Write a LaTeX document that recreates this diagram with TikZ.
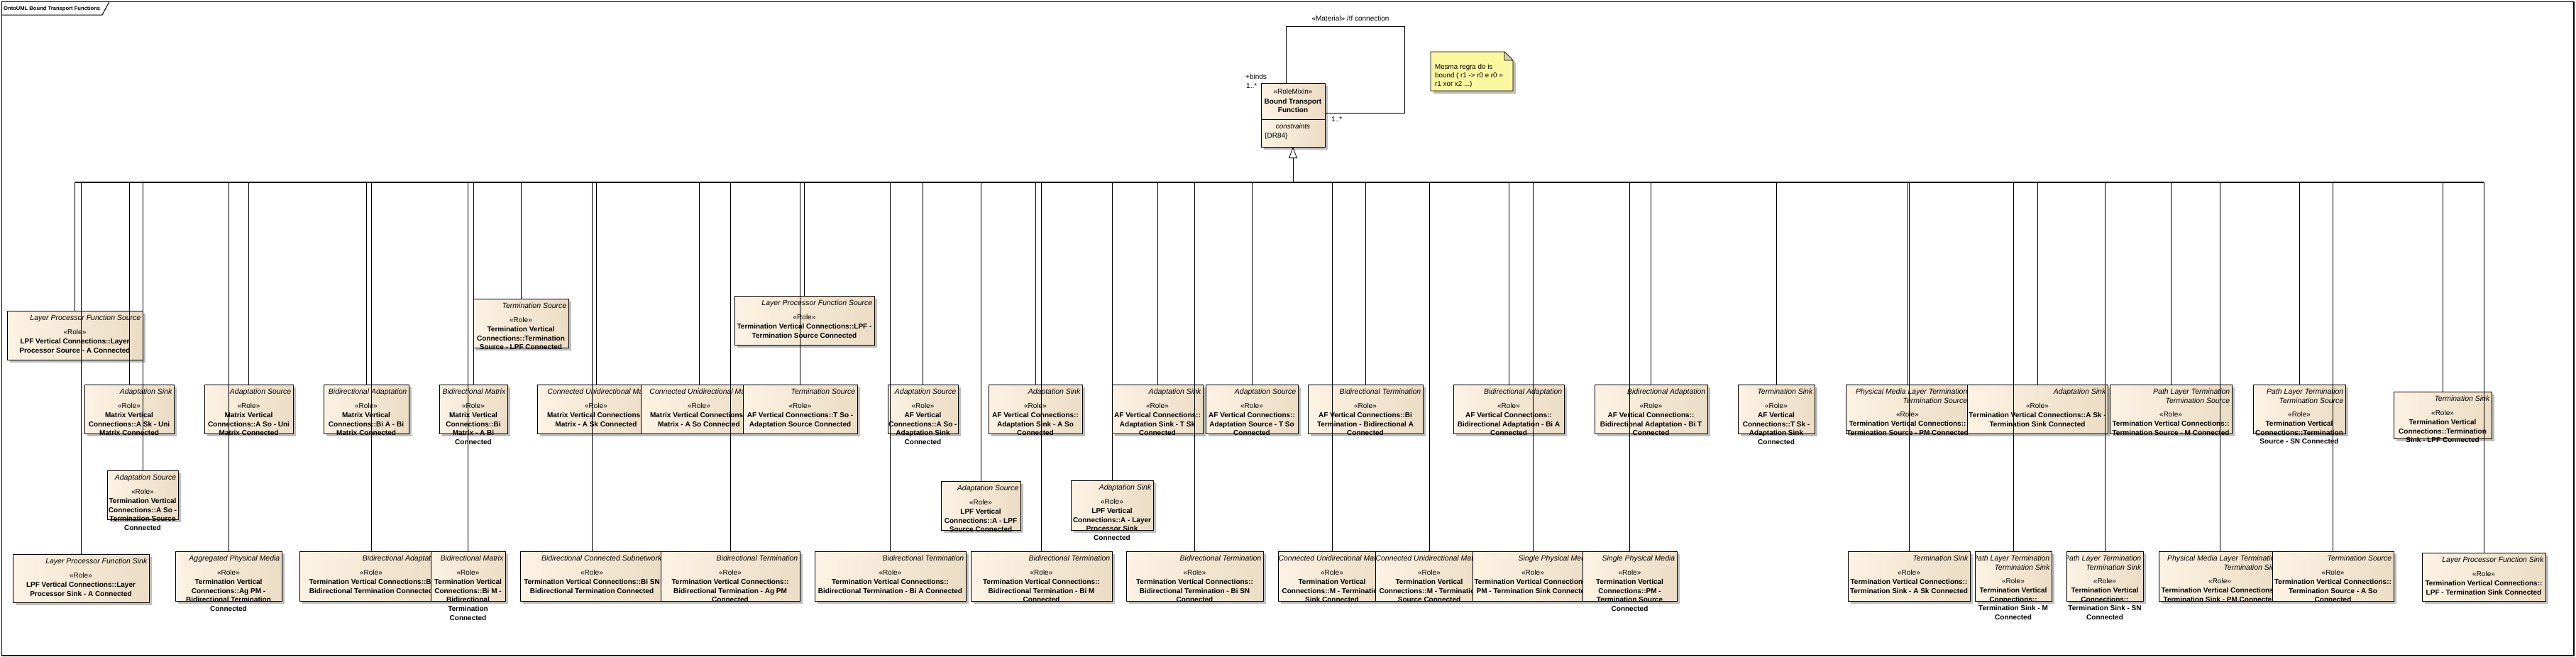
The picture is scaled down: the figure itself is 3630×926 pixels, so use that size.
\documentclass[tikz,border=0pt]{standalone}
\usepackage{fontspec}
\setmainfont{Liberation Sans}
\usepackage{array}
\usetikzlibrary{arrows.meta}
\definecolor{boxL}{RGB}{253,243,228}
\definecolor{boxR}{RGB}{235,220,196}
\definecolor{shadowc}{RGB}{190,190,190}
\definecolor{notefill}{RGB}{250,247,160}
\definecolor{notefold}{RGB}{214,210,170}
\tikzset{
 rbox/.style={draw=black, line width=0.9pt, left color=boxL, right color=boxR, inner sep=0pt, outer sep=0pt},
 shd/.style={fill=shadowc},
 ttl/.style={inner sep=0pt, font=\fontsize{10.5}{13}\selectfont\itshape},
 bdy/.style={inner sep=0pt, font=\fontsize{10}{12.8}\selectfont},
 conn/.style={line width=0.8pt},
 busline/.style={line width=1.4pt},
 lbl/.style={inner sep=0pt, font=\fontsize{10}{12.8}\selectfont},
}
% #1 name, #2 x1, #3 y1, #4 x2, #5 y2, #6 title lines, #7 offset of <<Role>> baseline, #8 body lines
\newcommand\RoleBox[8]{%
  \fill[shd] (#2+4,#3+4) rectangle (#4+4,#5+4);
  \node[rbox, minimum width=#4-#2, minimum height=#5-#3, anchor=north west] (#1) at (#2,#3) {};
  \begin{scope}
    \clip (#2,#3) rectangle (#4,#5+70);
    \node[ttl, anchor=base east] (#1t) at (#4-2.5,#3+13.5) {\begin{tabular}[t]{@{}r@{}}#6\end{tabular}};
    \node[bdy, anchor=base] (#1b) at ({(#2+#4)/2},#3+#7) {\begin{tabular}[t]{@{}>{\bfseries}c@{}}\mdseries «Role»\\#8\end{tabular}};
  \end{scope}}
\begin{document}
\begin{tikzpicture}[x=1pt,y=-1pt]
\useasboundingbox (0,0) rectangle (3630,926);
% frame
\draw[line width=1.2pt] (2.5,2.5) rectangle (3627,924);
\draw[line width=1pt] (2.5,21) -- (144,21) -- (154,2.5);
\node[anchor=base west, inner sep=0pt, font=\fontsize{7.6}{9}\selectfont\bfseries] (frametitle) at (5,14) {OntoUML Bound Transport Functions};

% row A
\RoleBox{b1}{10}{438}{201}{507}{Layer Processor Function Source}{33.5}{LPF Vertical Connections::Layer\\Processor Source - A Connected}
\RoleBox{b2}{667}{421}{801}{490}{Termination Source}{33.5}{Termination Vertical\\Connections::Termination\\Source - LPF Connected}
\RoleBox{b3}{1035}{417}{1232}{486}{Layer Processor Function Source}{33.5}{Termination Vertical Connections::LPF -\\Termination Source Connected}
% row B
\RoleBox{b4}{119}{542}{245}{611}{Adaptation Sink}{33.5}{Matrix Vertical\\Connections::A Sk - Uni\\Matrix Connected}
\RoleBox{b5}{288}{542}{413}{611}{Adaptation Source}{33.5}{Matrix Vertical\\Connections::A So - Uni\\Matrix Connected}
\RoleBox{b6}{456}{542}{576}{611}{Bidirectional Adaptation}{33.5}{Matrix Vertical\\Connections::Bi A - Bi\\Matrix Connected}
\RoleBox{b7}{619}{542}{715}{611}{Bidirectional Matrix}{33.5}{Matrix Vertical\\Connections::Bi\\Matrix - A Bi\\Connected}
\RoleBox{b8}{757}{542}{923}{611}{Connected Unidirectional Matrix}{33.5}{Matrix Vertical Connections::\\Matrix - A Sk Connected}
\RoleBox{b9}{903}{542}{1067}{611}{Connected Unidirectional Matrix}{33.5}{Matrix Vertical Connections::\\Matrix - A So Connected}
\RoleBox{b10}{1047}{542}{1208}{611}{Termination Source}{33.5}{AF Vertical Connections::T So -\\Adaptation Source Connected}
\RoleBox{b11}{1251}{542}{1350}{611}{Adaptation Source}{33.5}{AF Vertical\\Connections::A So -\\Adaptation Sink\\Connected}
\RoleBox{b12}{1393}{542}{1525}{611}{Adaptation Sink}{33.5}{AF Vertical Connections::\\Adaptation Sink - A So\\Connected}
\RoleBox{b13}{1567}{542}{1695}{611}{Adaptation Sink}{33.5}{AF Vertical Connections::\\Adaptation Sink - T Sk\\Connected}
\RoleBox{b14}{1699}{542}{1829}{611}{Adaptation Source}{33.5}{AF Vertical Connections::\\Adaptation Source - T So\\Connected}
\RoleBox{b15}{1843}{542}{2005}{611}{Bidirectional Termination}{33.5}{AF Vertical Connections::Bi\\Termination - Bidirectional A\\Connected}
\RoleBox{b16}{2048}{542}{2204}{611}{Bidirectional Adaptation}{33.5}{AF Vertical Connections::\\Bidirectional Adaptation - Bi A\\Connected}
\RoleBox{b17}{2247}{542}{2406}{611}{Bidirectional Adaptation}{33.5}{AF Vertical Connections::\\Bidirectional Adaptation - Bi T\\Connected}
\RoleBox{b18}{2449}{542}{2557}{611}{Termination Sink}{33.5}{AF Vertical\\Connections::T Sk -\\Adaptation Sink\\Connected}
\RoleBox{b19}{2601}{542}{2775}{611}{Physical Media Layer Termination\\Termination Source}{45.5}{Termination Vertical Connections::\\Termination Source - PM Connected}
\RoleBox{b20}{2772}{542}{2970}{611}{Adaptation Sink}{33.5}{Termination Vertical Connections::A Sk -\\Termination Sink Connected}
\RoleBox{b21}{2973}{542}{3145}{611}{Path Layer Termination\\Termination Source}{45.5}{Termination Vertical Connections::\\Termination Source - M Connected}
\RoleBox{b22}{3175}{542}{3305}{611}{Path Layer Termination\\Termination Source}{45.5}{Termination Vertical\\Connections::Termination\\Source - SN Connected}
\RoleBox{b23}{3373}{552}{3511}{618}{Termination Sink}{33.5}{Termination Vertical\\Connections::Termination\\Sink - LPF Connected}
% row A2
\RoleBox{b24}{151}{663}{251}{732}{Adaptation Source}{33.5}{Termination Vertical\\Connections::A So -\\Termination Source\\Connected}
\RoleBox{b25}{1326}{678}{1438}{747}{Adaptation Source}{33.5}{LPF Vertical\\Connections::A - LPF\\Source Connected}
\RoleBox{b26}{1509}{677}{1625}{747}{Adaptation Sink}{33.5}{LPF Vertical\\Connections::A - Layer\\Processor Sink\\Connected}
% row C
\RoleBox{b27}{18}{781}{210}{849}{Layer Processor Function Sink}{33.5}{LPF Vertical Connections::Layer\\Processor Sink - A Connected}
\RoleBox{b28}{247}{777}{397}{847}{Aggregated Physical Media}{33.5}{Termination Vertical\\Connections::Ag PM -\\Bidirectional Termination\\Connected}
\RoleBox{b29}{422}{777}{624}{847}{Bidirectional Adaptation}{33.5}{Termination Vertical Connections::Bi\\Bidirectional Termination Connected}
\RoleBox{b30}{607}{777}{712}{847}{Bidirectional Matrix}{33.5}{Termination Vertical\\Connections::Bi M -\\Bidirectional\\Termination\\Connected}
\RoleBox{b31}{733}{777}{935}{847}{Bidirectional Connected Subnetwork}{33.5}{Termination Vertical Connections::Bi SN\\Bidirectional Termination Connected}
\RoleBox{b32}{931}{777}{1127}{847}{Bidirectional Termination}{33.5}{Termination Vertical Connections::\\Bidirectional Termination - Ag PM\\Connected}
\RoleBox{b33}{1148}{777}{1361}{847}{Bidirectional Termination}{33.5}{Termination Vertical Connections::\\Bidirectional Termination - Bi A Connected}
\RoleBox{b34}{1368}{777}{1567}{847}{Bidirectional Termination}{33.5}{Termination Vertical Connections::\\Bidirectional Termination - Bi M\\Connected}
\RoleBox{b35}{1587}{777}{1780}{847}{Bidirectional Termination}{33.5}{Termination Vertical Connections::\\Bidirectional Termination - Bi SN\\Connected}
\RoleBox{b36}{1801}{777}{1953}{847}{Connected Unidirectional Matrix}{33.5}{Termination Vertical\\Connections::M - Termination\\Sink Connected}
\RoleBox{b37}{1938}{777}{2090}{847}{Connected Unidirectional Matrix}{33.5}{Termination Vertical\\Connections::M - Termination\\Source Connected}
\RoleBox{b38}{2075}{777}{2245}{847}{Single Physical Media}{33.5}{Termination Vertical Connections::\\PM - Termination Sink Connected}
\RoleBox{b39}{2230}{777}{2363}{847}{Single Physical Media}{33.5}{Termination Vertical\\Connections::PM -\\Termination Source\\Connected}
\RoleBox{b40}{2604}{777}{2776}{847}{Termination Sink}{33.5}{Termination Vertical Connections::\\Termination Sink - A Sk Connected}
\RoleBox{b41}{2783}{777}{2891}{847}{Path Layer Termination\\Termination Sink}{45.5}{Termination Vertical\\Connections::\\Termination Sink - M\\Connected}
\RoleBox{b42}{2912}{777}{3020}{847}{Path Layer Termination\\Termination Sink}{45.5}{Termination Vertical\\Connections::\\Termination Sink - SN\\Connected}
\RoleBox{b43}{3042}{777}{3214}{847}{Physical Media Layer Termination\\Termination Sink}{45.5}{Termination Vertical Connections::\\Termination Sink - PM Connected}
\RoleBox{b44}{3202}{777}{3373}{847}{Termination Source}{33.5}{Termination Vertical Connections::\\Termination Source - A So\\Connected}
\RoleBox{b45}{3413}{779}{3587}{847}{Layer Processor Function Sink}{33.5}{Termination Vertical Connections::\\LPF - Termination Sink Connected}

% bus and connectors
\coordinate (bus) at (0,257);
\draw[busline] (b1.north |- bus) -- (b45.north |- bus);
\foreach \n in {1,...,45} {\draw[conn] (b\n.north) -- (b\n.north |- bus);}

% root class
\fill[shd] (1781,121) rectangle (1871,211);
\node[rbox, minimum width=90, minimum height=90, anchor=north west] (root) at (1777,117) {};
\draw[line width=0.9pt] (root.north west) ++(0,51) -- ++(90,0);
\node[bdy, anchor=base] (rootst) at (1822,132.5) {«RoleMixin»};
\node[bdy, anchor=base, font=\fontsize{10}{12.8}\selectfont\bfseries] (rootnm) at (1822,146) {\begin{tabular}[t]{@{}c@{}}Bound Transport\\Function\end{tabular}};
\node[bdy, anchor=base, font=\fontsize{10}{12.8}\selectfont\itshape] (rootc) at (1822,181.5) {constraints};
\node[bdy, anchor=base west] (rootd) at (1782,194.5) {\{DR84\}};
\draw[conn, -{Triangle[open, length=16pt, width=12pt]}] (root.south |- bus) -- (root.south);

% self association
\coordinate (lpS) at ([xshift=35pt]root.north west);
\coordinate (lpC) at (1979,37);
\coordinate (lpE) at ([yshift=-42pt]root.north east);
\draw[conn] (lpS) |- (lpC) |- (lpE);
\node[lbl, anchor=base] (lblmat) at (1903,29.5) {«Material» /tf connection};
\node[lbl, anchor=base west] (lblbinds) at (1755,111.5) {+binds};
\node[lbl, anchor=base west] (lblm1) at (1756,124.5) {1..*};
\node[lbl, anchor=base west] (lblm2) at (1876,171.5) {1..*};

% note
\fill[shd] (2020,77) -- (2124,77) -- (2136,89) -- (2136,132) -- (2020,132) -- cycle;
\draw[fill=notefill, line width=0.9pt] (2016,73) -- (2120,73) -- (2132,85) -- (2132,128) -- (2016,128) -- cycle;
\draw[fill=notefold, line width=0.6pt] (2120,73) -- (2120,85) -- (2132,85) -- cycle;
\node[inner sep=0pt, anchor=base west, font=\fontsize{9.8}{12}\selectfont] (note) at (2022,97.5) {\begin{tabular}[t]{@{}l@{}}Mesma regra do is\\bound ( r1 -> r0 e r0 =\\r1 xor x2 ...)\end{tabular}};
\end{tikzpicture}
\end{document}
